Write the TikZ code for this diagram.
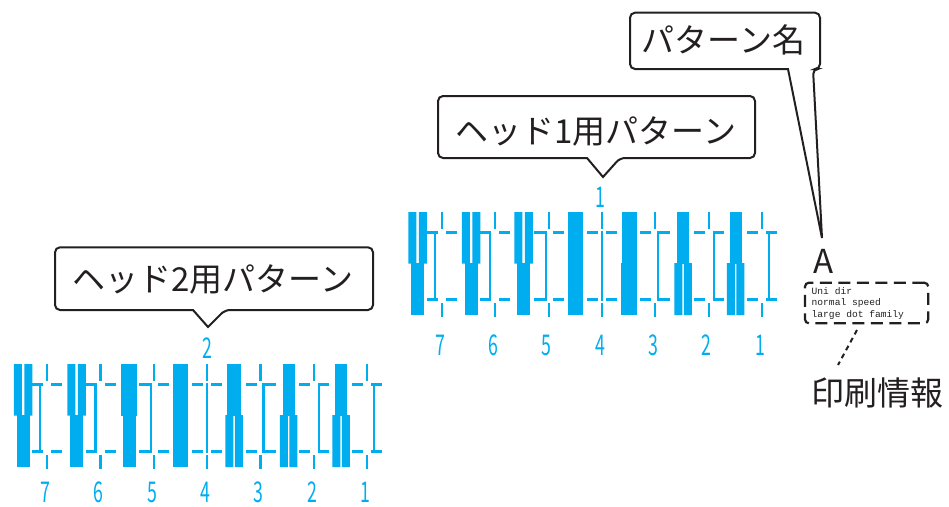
\documentclass[tikz,border=0pt]{standalone}
\usepackage{fontspec}
\usepackage{graphicx}
\usetikzlibrary{calc}
\newfontfamily\jpf{Noto Sans CJK JP}
\newfontfamily\monof{Liberation Mono}
\definecolor{patcyan}{HTML}{00AEEF}
\definecolor{inkc}{HTML}{231F20}
% bar groups: centre, half width
\newcommand\pTopOne[2]{\fill[patcyan] ({#1-#2},0) rectangle ({#1+#2},51.5);}
\newcommand\pTopTwo[1]{\fill[patcyan] ({#1-9.25},0) rectangle ({#1-1.25},51.5) ({#1+1.25},0) rectangle ({#1+9.25},51.5);}
\newcommand\pBotOne[2]{\fill[patcyan] ({#1-#2},51) rectangle ({#1+#2},103);}
\newcommand\pBotTwo[1]{\fill[patcyan] ({#1-8.75},51) rectangle ({#1-0.75},103) ({#1+0.75},51) rectangle ({#1+8.75},103);}
\newcommand\pCrossings{%
  \foreach \cx/\ox in {-160/-7,-106.7/-5,-53.3/-3,0/0,53.3/3,106.7/5,160/7}{%
    \draw[patline] (\cx,0) -- (\cx,17) (\cx,91) -- (\cx,105)
      ({\cx-15},20.5) -- ({\cx-4},20.5) ({\cx+4},20.5) -- ({\cx+15},20.5)
      ({\cx-15},87.5) -- ({\cx-4},87.5) ({\cx+4},87.5) -- ({\cx+15},87.5)
      ({\cx+\ox},19.35) -- ({\cx+\ox},88.65);
  }}
\newcommand\pNumbers[2]{%
  \foreach \cx/\lab in {-160/7,-106.7/6,-53.3/5,0/4,53.3/3,106.7/2,160/1}{%
    \node[numtext] (#1n\lab) at ({\cx-2},#2) {\scalebox{0.62}[1]{\lab}};
  }}
\begin{document}
\begin{tikzpicture}[x=1pt,y=-1pt,
  patline/.style={draw=patcyan, line width=2.3pt},
  callout/.style={draw=inkc, line width=2pt, line join=miter},
  jptext/.style={font=\jpf\fontsize{33}{40}\selectfont, text=inkc, inner sep=0pt},
  numtext/.style={font=\jpf\fontsize{28.6}{30}\selectfont, text=patcyan, inner sep=0pt,
    text height=20.5pt, text depth=0pt, anchor=base},
  infobox/.style={draw=inkc, line width=2.2pt, dash pattern=on 12pt off 6.5pt, rounded corners=4pt,
    minimum width=123.3pt, minimum height=40.6pt, inner sep=0pt},
  infotext/.style={font=\monof\fontsize{9.6}{11.7}\selectfont, text=inkc, align=left, inner sep=0pt},
  leader/.style={draw=inkc, line width=2pt, dash pattern=on 5pt off 4pt}]
\useasboundingbox (0,0) rectangle (949,506);

% ---------- pattern for head 1 ----------
\begin{scope}[shift={(602,212)}]
  \pTopTwo{-184.5}\pBotOne{-184.5}{6.5}
  \pTopTwo{-131}\pBotOne{-131}{6.5}
  \pTopTwo{-78.5}\pBotOne{-78.5}{6.5}
  \pTopOne{-27}{7.5}\pBotOne{-27}{7.5}
  \pTopOne{27}{7.5}\pBotOne{27}{8}
  \pTopOne{81}{6}\pBotTwo{81}
  \pTopOne{133.5}{6}\pBotTwo{133.5}
  \pCrossings
  \pNumbers{a}{143}
\end{scope}

% ---------- pattern for head 2 ----------
\begin{scope}[shift={(207.3,364)}]
  \pTopTwo{-184.3}\pBotOne{-184.3}{6.5}
  \pTopTwo{-130.8}\pBotOne{-130.8}{6.5}
  \pTopOne{-78.3}{8}\pBotOne{-78.3}{6.5}
  \pTopOne{-26.8}{7.5}\pBotOne{-26.8}{7.5}
  \pTopOne{26.7}{7}\pBotTwo{26.7}
  \pTopOne{81.2}{6}\pBotTwo{81.2}
  \pTopOne{133.7}{6}\pBotTwo{133.7}
  \pCrossings
  \pNumbers{b}{138.5}
\end{scope}

% head numbers
\node[numtext] (hnum1) at (600,207) {\scalebox{0.62}[1]{1}};
\node[numtext] (hnum2) at (207,358.5) {\scalebox{0.62}[1]{2}};

% ---------- callouts ----------
\node[jptext] (h1) at (596,131) {ヘッド1用パターン};
\draw[callout] (620,158) -- (603,177) -- (587,158) [rounded corners=5pt] -- (438,158) -- (438,96) -- (755,96) -- (755,158) -- cycle;

\node[jptext] (h2) at (213,279) {ヘッド2用パターン};
\draw[callout] (225,310) -- (208,327) -- (193,310) [rounded corners=5pt] -- (55,310) -- (55,247.3) -- (373,247.3) -- (373,310) -- cycle;

\node[jptext] (pn) at (723.5,40) {パターン名};
\coordinate (pnapex) at (822,238);
\draw[callout] (813,69) -- (pnapex) -- (788,69) [rounded corners=5pt] -- (630,69) -- (630,12.7) -- (820,12.7) -- (820,69) -- cycle;

% ---------- print info ----------
\node[font=\jpf\fontsize{33}{40}\selectfont, text=inkc, inner sep=0pt] (pA) at (823.5,261.5) {A};
\node[infobox] (info) at (866.6,303) {};
\node[infotext, anchor=west] (infot) at (811.5,303.3) {Uni dir\\normal speed\\large dot family};
\node[jptext] (pi) at (877,392.5) {印刷情報};
\coordinate (ltop) at (857,330);
\coordinate (lbot) at (838,365);
\draw[leader] (ltop) -- (lbot);
\end{tikzpicture}
\end{document}
